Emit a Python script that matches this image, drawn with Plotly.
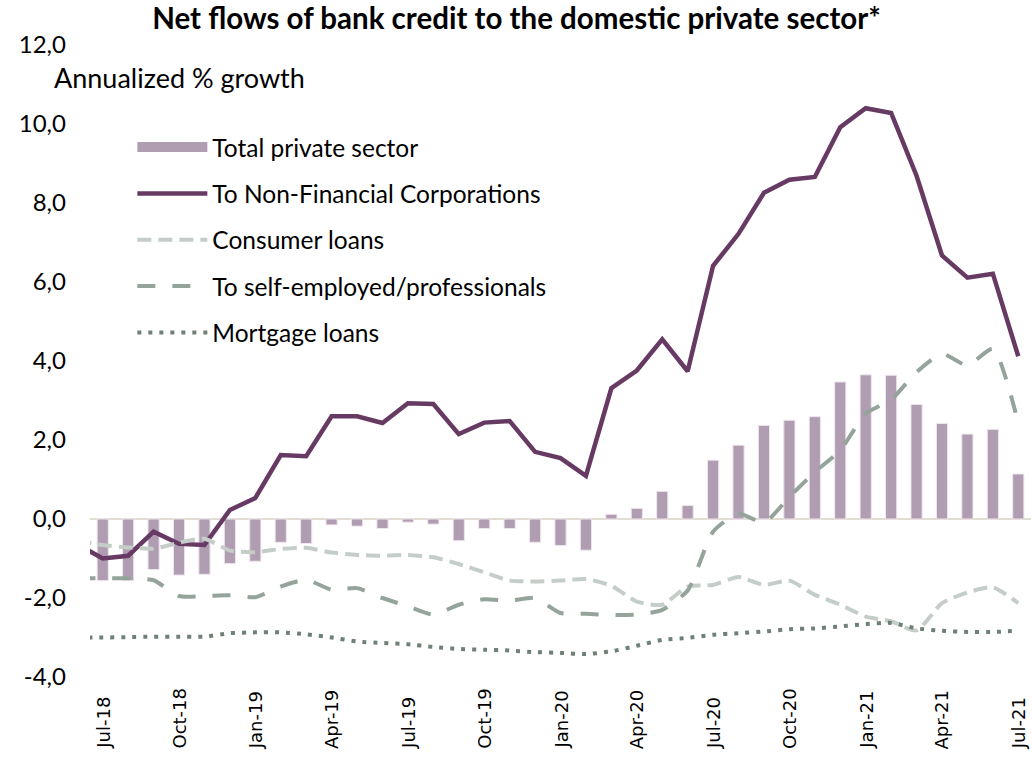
import plotly.graph_objects as go

# Monthly observations, Jun-18 to Jul-21
months = ["Jun-18", "Jul-18", "Aug-18", "Sep-18", "Oct-18", "Nov-18", "Dec-18",
          "Jan-19", "Feb-19", "Mar-19", "Apr-19", "May-19", "Jun-19", "Jul-19",
          "Aug-19", "Sep-19", "Oct-19", "Nov-19", "Dec-19", "Jan-20", "Feb-20",
          "Mar-20", "Apr-20", "May-20", "Jun-20", "Jul-20", "Aug-20", "Sep-20",
          "Oct-20", "Nov-20", "Dec-20", "Jan-21", "Feb-21", "Mar-21", "Apr-21",
          "May-21", "Jun-21", "Jul-21"]

tick_labels = ["Jul-18", "Oct-18", "Jan-19", "Apr-19", "Jul-19", "Oct-19", "Jan-20",
               "Apr-20", "Jul-20", "Oct-20", "Jan-21", "Apr-21", "Jul-21"]

y_tick_values = [-4, -2, 0, 2, 4, 6, 8, 10, 12]
y_tick_labels = ["-4,0", "-2,0", "0,0", "2,0", "4,0", "6,0", "8,0", "10,0", "12,0"]

total_private = [None, -1.56, -1.56, -1.28, -1.42, -1.40, -1.13, -1.07, -0.59, -0.62,
                 -0.15, -0.18, -0.24, -0.08, -0.13, -0.55, -0.24, -0.24, -0.59, -0.67,
                 -0.79, 0.12, 0.27, 0.70, 0.34, 1.49, 1.87, 2.37, 2.50, 2.59, 3.47,
                 3.65, 3.64, 2.90, 2.42, 2.15, 2.27, 1.14]

non_financial_corps = [-0.64, -1.00, -0.93, -0.32, -0.63, -0.66, 0.23, 0.53, 1.62, 1.59,
                       2.60, 2.60, 2.43, 2.93, 2.91, 2.15, 2.44, 2.48, 1.70, 1.54,
                       1.09, 3.31, 3.76, 4.55, 3.74, 6.41, 7.22, 8.26, 8.59, 8.66,
                       9.92, 10.40, 10.28, 8.69, 6.67, 6.11, 6.21, 4.12]

consumer_loans = [-0.55, -0.66, -0.72, -0.75, -0.60, -0.50, -0.80, -0.84, -0.76, -0.73,
                  -0.85, -0.91, -0.93, -0.91, -0.97, -1.14, -1.35, -1.56, -1.58, -1.56,
                  -1.52, -1.69, -2.09, -2.17, -1.71, -1.67, -1.47, -1.67, -1.56, -1.92,
                  -2.17, -2.47, -2.59, -2.82, -2.13, -1.86, -1.73, -2.13]

self_employed = [-1.50, -1.50, -1.50, -1.55, -1.95, -1.95, -1.93, -1.98, -1.71, -1.54,
                 -1.79, -1.75, -2.00, -2.21, -2.42, -2.17, -2.03, -2.07, -2.00, -2.38,
                 -2.40, -2.43, -2.42, -2.30, -1.81, -0.32, 0.14, -0.09, 0.56, 1.19,
                 1.74, 2.67, 3.02, 3.72, 4.18, 3.89, 4.31, 2.43]

mortgage_loans = [-3.00, -3.00, -2.99, -2.98, -2.98, -2.98, -2.89, -2.87, -2.87, -2.92,
                  -3.00, -3.10, -3.14, -3.17, -3.24, -3.29, -3.31, -3.33, -3.37, -3.39,
                  -3.42, -3.35, -3.21, -3.06, -3.01, -2.93, -2.89, -2.85, -2.79, -2.77,
                  -2.72, -2.66, -2.63, -2.77, -2.83, -2.86, -2.86, -2.83]

BODY_FONT = "Lato"
BAR_COLOR = "#b19db1"

fig = go.Figure()

fig.add_trace(go.Bar(
    x=months, y=total_private, name="Total private sector",
    marker=dict(color=BAR_COLOR, line=dict(color="#efe6ef", width=1)),
    showlegend=False,
))
# Wide swatch for the bar series in the legend
fig.add_trace(go.Scatter(
    x=[None], y=[None], name="Total private sector",
    mode="lines", line=dict(color=BAR_COLOR, width=15),
    legendgroup="a",
))
fig.add_trace(go.Scatter(
    x=months, y=non_financial_corps, name="To Non-Financial Corporations",
    mode="lines", line=dict(color="#673a63", width=4.5),
    legendgroup="b",
))
fig.add_trace(go.Scatter(
    x=months, y=consumer_loans, name="Consumer loans",
    mode="lines", line=dict(color="#c4cdc8", width=4, dash="14px,7px",
                            shape="spline", smoothing=0.6),
    legendgroup="c",
))
fig.add_trace(go.Scatter(
    x=months, y=self_employed, name="To self-employed/professionals",
    mode="lines", line=dict(color="#94a49b", width=4, dash="18px,17px",
                            shape="spline", smoothing=0.6),
    legendgroup="d",
))
fig.add_trace(go.Scatter(
    x=months, y=mortgage_loans, name="Mortgage loans",
    mode="lines", line=dict(color="#6f8077", width=4, dash="4px,7px",
                            shape="spline", smoothing=0.6),
    legendgroup="e",
))

# Month labels along the bottom, rotated and aligned at their start
month_annotations = [
    dict(text=lbl, xref="x", yref="paper", x=lbl, y=(677 - 751) / 632,
         xanchor="center", yanchor="bottom", textangle=-90, showarrow=False,
         font=dict(family="DejaVu Sans", size=18, color="black"))
    for lbl in tick_labels
]

fig.update_layout(
    width=1033, height=769,
    margin=dict(l=90, r=2, t=45, b=92),
    paper_bgcolor="white", plot_bgcolor="white",
    bargap=0.56,
    font=dict(family=BODY_FONT, color="black"),
    title=dict(
        text="<b>Net flows of bank credit to the domestic private sector*</b>",
        x=0.5, xanchor="center", xref="container",
        y=1 - 19 / 769, yanchor="middle", yref="container",
        font=dict(family=BODY_FONT, size=29.5, color="black"),
    ),
    showlegend=True,
    legend=dict(
        x=0.045, y=0.874, xanchor="left", yanchor="top",
        bgcolor="rgba(0,0,0,0)",
        font=dict(family=BODY_FONT, size=24.5, color="black"),
        itemwidth=70,
        tracegroupgap=11.5,
        traceorder="grouped",
    ),
    xaxis=dict(
        type="category",
        categoryorder="array", categoryarray=months,
        range=[0.5, 37.5],
        showticklabels=False,
        showgrid=False, showline=False, ticks="",
        zeroline=False,
    ),
    yaxis=dict(
        range=[-4, 12],
        tickmode="array", tickvals=y_tick_values, ticktext=y_tick_labels,
        tickfont=dict(family=BODY_FONT, size=24, color="black"),
        showgrid=False, showline=False, ticks="",
        zeroline=True, zerolinecolor="#e2ddd2", zerolinewidth=2,
        ticklabelstandoff=23,
    ),
    annotations=[dict(
        text="Annualized % growth",
        xref="paper", yref="paper",
        x=(52 - 90) / 941, y=(677 - 78) / 632,
        xanchor="left", yanchor="middle",
        showarrow=False,
        font=dict(family=BODY_FONT, size=27, color="black"),
    )] + month_annotations,
)

fig.write_html("out.html")
